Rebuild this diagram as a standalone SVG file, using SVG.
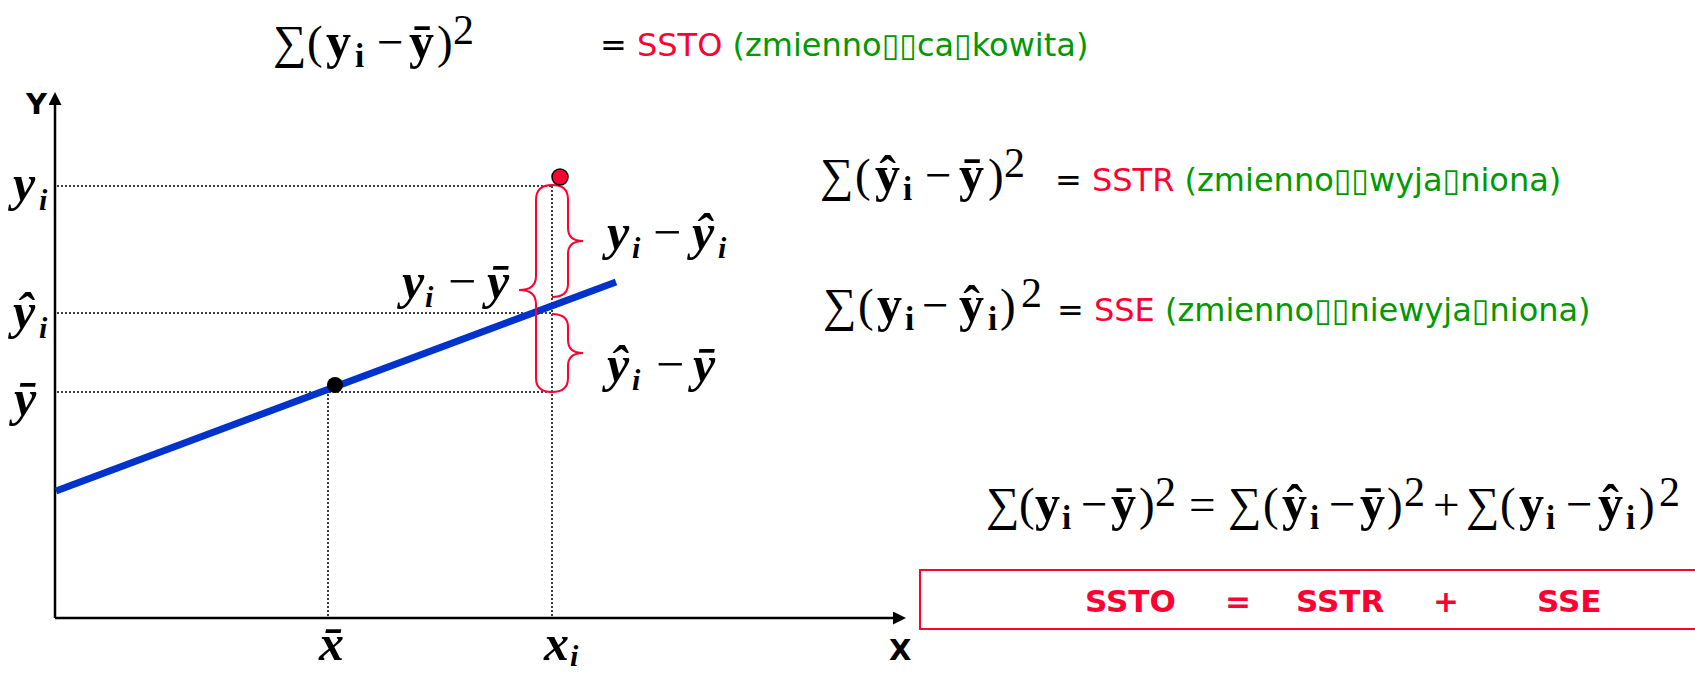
<svg xmlns="http://www.w3.org/2000/svg" width="1695" height="674" viewBox="0 0 1695 674">
<style>
.m{font-family:"Liberation Serif","Times New Roman",serif;font-size:47px;fill:#000}
.b{font-weight:bold;font-size:50px}
.sub{font-size:33px;font-weight:bold}
.sup{font-size:42px}
.lab{font-family:"Liberation Serif","Times New Roman",serif;font-weight:bold;font-style:italic;font-size:50px;fill:#000}
.ls{font-size:30px}
.mn{font-style:normal;font-weight:normal}
.t{font-family:"DejaVu Sans",Verdana,sans-serif;font-size:32px;fill:#000}
.ax{font-family:"DejaVu Sans",Verdana,sans-serif;font-size:29px;font-weight:bold;fill:#000}
.red{fill:#ff0033}
.grn{fill:#009900}
.dot{stroke:#000;stroke-width:1.5;stroke-dasharray:2 2;fill:none}
.axis{stroke:#000;stroke-width:2.5;fill:none}
.brace{stroke:#ff0033;stroke-width:2;fill:none}
.sum{font-family:"DejaVu Sans",Verdana,sans-serif;font-size:31px;font-weight:bold;fill:#ff0033}
</style>
<defs>
<marker id="arr" markerUnits="userSpaceOnUse" markerWidth="14" markerHeight="14" refX="0" refY="6.5" orient="auto">
<path d="M0,0 L13,6.5 L0,13 z" fill="#000"/>
</marker>
</defs>

<g id="connectors">
<line class="axis" x1="55" y1="618" x2="55" y2="105" marker-end="url(#arr)"/>
<line class="axis" x1="55" y1="618" x2="893" y2="618" marker-end="url(#arr)"/>
<line class="dot" x1="57" y1="186" x2="552" y2="186"/>
<line class="dot" x1="57" y1="313" x2="552" y2="313"/>
<line class="dot" x1="57" y1="392" x2="552" y2="392"/>
<line class="dot" x1="328" y1="386" x2="328" y2="617"/>
<line class="dot" x1="552" y1="186" x2="552" y2="617"/>
<line x1="56" y1="491" x2="616" y2="282" stroke="#0033cc" stroke-width="7"/>
<path class="brace" d="M552 185 Q536 185 536 200 L536 276 Q536 290 519 290 Q536 290 536 304 L536 378 Q536 392 552 392"/>
<path class="brace" d="M552 185 Q568 185 568 199 L568 228 Q568 241 583 241 Q568 241 568 254 L568 284 Q568 297 552 297"/>
<path class="brace" d="M552 314 Q568 314 568 327 L568 340 Q568 353 583 353 Q568 353 568 366 L568 378 Q568 392 552 392"/>
</g>

<g id="point-mean"><circle cx="335" cy="385" r="8" fill="#000"/></g>
<g id="point-obs"><circle cx="560" cy="177" r="8" fill="#ff0033" stroke="#000" stroke-width="1.5"/></g>

<g id="axis-labels">
<text class="ax" x="26" y="114">Y</text>
<text class="ax" x="889" y="660">X</text>
<text class="lab" x="13" y="200">y<tspan class="ls" x="39" y="210">i</tspan></text>
<text class="lab" x="13" y="328">ŷ<tspan class="ls" x="39" y="338">i</tspan></text>
<text class="lab" x="14" y="415">ȳ</text>
<text class="lab" x="319" y="660">x̄</text>
<text class="lab" x="544" y="660">x<tspan class="ls" x="570" y="666">i</tspan></text>
</g>

<g id="label-resid">
<text class="lab" x="607" y="249">y<tspan class="ls" x="632" y="258">i</tspan><tspan class="mn" x="653" y="249">−</tspan><tspan x="692" y="249">ŷ</tspan><tspan class="ls" x="718" y="258">i</tspan></text>
</g>
<g id="label-total">
<text class="lab" x="402" y="298">y<tspan class="ls" x="425" y="307">i</tspan><tspan class="mn" x="448" y="298">−</tspan><tspan x="487" y="298">ȳ</tspan></text>
</g>
<g id="label-reg">
<text class="lab" x="607" y="381">ŷ<tspan class="ls" x="632" y="390">i</tspan><tspan class="mn" x="656" y="381">−</tspan><tspan x="693" y="381">ȳ</tspan></text>
</g>

<g id="formula-ssto">
<text class="m" y="58"><tspan x="273">∑</tspan><tspan x="307">(</tspan><tspan class="b" x="326">y</tspan><tspan class="sub" x="355" y="67">i</tspan><tspan x="377" y="58">−</tspan><tspan class="b" x="409">ȳ</tspan><tspan x="437">)</tspan><tspan class="sup" x="453" y="44">2</tspan></text>
<text class="t" x="600" y="56">= <tspan class="red">SSTO</tspan><tspan class="grn"> (zmienno▯▯ca▯kowita)</tspan></text>
</g>

<g id="formula-sstr">
<text class="m" y="191"><tspan x="820">∑</tspan><tspan x="855">(</tspan><tspan class="b" x="875">ŷ</tspan><tspan class="sub" x="903" y="200">i</tspan><tspan x="925" y="191">−</tspan><tspan class="b" x="959">ȳ</tspan><tspan x="988">)</tspan><tspan class="sup" x="1004" y="177">2</tspan></text>
<text class="t" x="1055" y="191">= <tspan class="red">SSTR</tspan><tspan class="grn"> (zmienno▯▯wyja▯niona)</tspan></text>
</g>

<g id="formula-sse">
<text class="m" y="321"><tspan x="823">∑</tspan><tspan x="858">(</tspan><tspan class="b" x="877">y</tspan><tspan class="sub" x="905" y="330">i</tspan><tspan x="922" y="321">−</tspan><tspan class="b" x="959">ŷ</tspan><tspan class="sub" x="988" y="330">i</tspan><tspan x="1000" y="321">)</tspan><tspan class="sup" x="1021" y="307">2</tspan></text>
<text class="t" x="1057" y="321">= <tspan class="red">SSE</tspan><tspan class="grn"> (zmienno▯▯niewyja▯niona)</tspan></text>
</g>

<g id="formula-identity">
<text class="m" y="520"><tspan x="986">∑</tspan><tspan x="1019">(</tspan><tspan class="b" x="1035">y</tspan><tspan class="sub" x="1062" y="529">i</tspan><tspan x="1081" y="520">−</tspan><tspan class="b" x="1111">ȳ</tspan><tspan x="1139">)</tspan><tspan class="sup" x="1155" y="506">2</tspan><tspan x="1189" y="520">=</tspan><tspan x="1228">∑</tspan><tspan x="1263">(</tspan><tspan class="b" x="1282">ŷ</tspan><tspan class="sub" x="1310" y="529">i</tspan><tspan x="1329" y="520">−</tspan><tspan class="b" x="1360">ȳ</tspan><tspan x="1387">)</tspan><tspan class="sup" x="1404" y="506">2</tspan><tspan x="1433" y="520">+</tspan><tspan x="1466">∑</tspan><tspan x="1500">(</tspan><tspan class="b" x="1519">y</tspan><tspan class="sub" x="1546" y="529">i</tspan><tspan x="1566" y="520">−</tspan><tspan class="b" x="1598">ŷ</tspan><tspan class="sub" x="1626" y="529">i</tspan><tspan x="1639" y="520">)</tspan><tspan class="sup" x="1659" y="506">2</tspan></text>
</g>

<g id="summary-box">
<rect x="920" y="570" width="800" height="59" fill="none" stroke="#ff0033" stroke-width="2"/>
<text class="sum" y="612"><tspan x="1085">SSTO</tspan><tspan x="1225">=</tspan><tspan x="1296">SSTR</tspan><tspan x="1433">+</tspan><tspan x="1537">SSE</tspan></text>
</g>
</svg>
